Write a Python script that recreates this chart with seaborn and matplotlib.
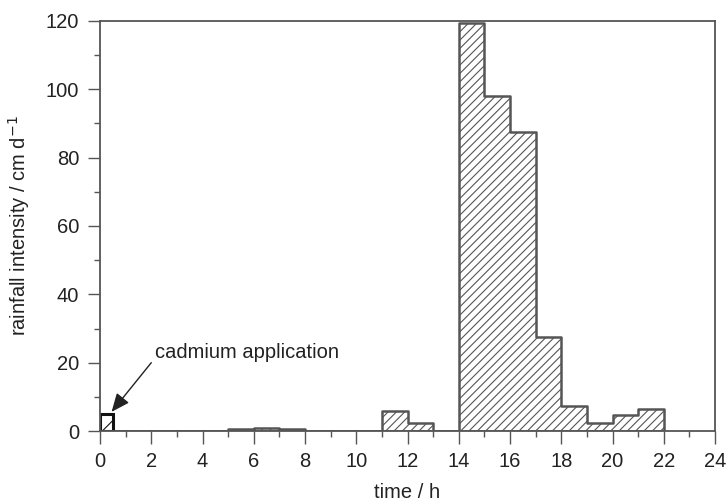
import matplotlib
matplotlib.use("Agg")
import matplotlib.pyplot as plt
import numpy as np
import pandas as pd
import seaborn as sns

# Hourly rainfall intensity (cm/d); first interval is the half-hour cadmium application
bin_edges = [0, 0.5, 1, 2, 3, 4, 5, 6, 7, 8, 9, 10, 11, 12, 13, 14,
             15, 16, 17, 18, 19, 20, 21, 22]
intensity = [5.0, 0, 0, 0, 0, 0, 0.5, 1.0, 0.5, 0, 0, 0, 5.8, 2.4, 0,
             119.4, 98.0, 87.6, 27.5, 7.3, 2.3, 4.7, 6.5]

x_ticks = [0, 2, 4, 6, 8, 10, 12, 14, 16, 18, 20, 22, 24]
y_ticks = [0, 20, 40, 60, 80, 100, 120]
annotation_text = "cadmium application"

sns.set_theme(style="white")
plt.rcParams["font.family"] = ["Liberation Sans", "DejaVu Sans"]
plt.rcParams["hatch.color"] = "#444444"
plt.rcParams["hatch.linewidth"] = 0.8

gray = "#555555"
text_color = "#222222"
fs = 14.5

df = pd.DataFrame({
    "mid": [(a + b) / 2 for a, b in zip(bin_edges[:-1], bin_edges[1:])],
    "intensity": intensity,
})

fig = plt.figure(figsize=(7.27, 5.03), dpi=100)
ax = fig.add_axes([0.1376, 0.1431, 0.8459, 0.8152])

# Rainfall record as a hatched step outline
sns.histplot(data=df, x="mid", weights="intensity", bins=bin_edges,
             element="step", fill=True, color="white", alpha=1.0,
             edgecolor=gray, linewidth=1.8, hatch="////", ax=ax)

# Application interval drawn with a darker outline
app = df.iloc[:1]
sns.histplot(data=app, x="mid", weights="intensity", bins=bin_edges[:2],
             element="bars", fill=True, color="white", alpha=1.0,
             edgecolor="#111111", linewidth=2.2, hatch="//", ax=ax)

ax.text(2.15, 23.0, annotation_text, fontsize=fs, color=text_color,
        va="center", ha="left")
ax.annotate("", xy=(0.45, 5.6), xytext=(2.0, 20.0),
            arrowprops=dict(arrowstyle="-|>,head_length=0.7,head_width=0.3",
                            color="#222222", lw=1.0, mutation_scale=16,
                            shrinkA=0, shrinkB=0))

ax.set_xlim(0, 24)
ax.set_ylim(0, 120)
ax.set_xticks(x_ticks)
ax.set_yticks(y_ticks)
ax.set_xticks(np.arange(1, 24, 2), minor=True)
ax.set_yticks(np.arange(10, 120, 20), minor=True)
ax.tick_params(axis="both", which="major", direction="out", length=9, width=1.0,
               color=gray, labelsize=fs, labelcolor=text_color, pad=6)
ax.tick_params(axis="both", which="minor", direction="out", length=4.5, width=1.0,
               color=gray)
ax.tick_params(bottom=True, left=True, top=False, right=False)
ax.tick_params(which="minor", bottom=True, left=True, top=False, right=False)

for s in ax.spines.values():
    s.set_color(gray)
    s.set_linewidth(1.3)

ax.set_xlabel("time / h", fontsize=fs, color=text_color, labelpad=9)
ax.set_ylabel("rainfall intensity / cm d$^{-1}$", fontsize=fs, color=text_color,
              labelpad=10)

fig.savefig("out.png", dpi=100)
